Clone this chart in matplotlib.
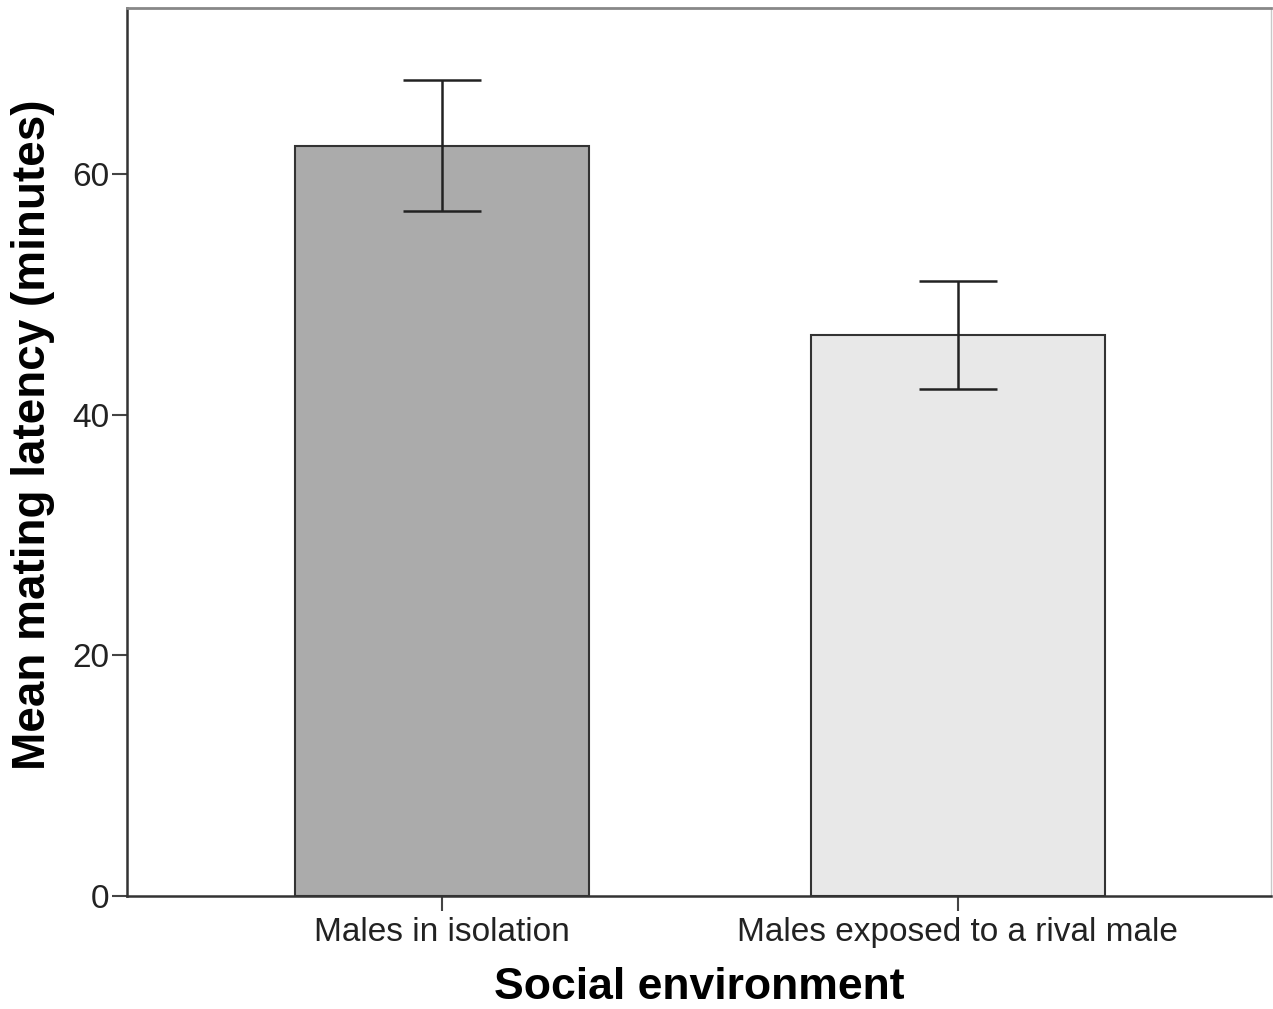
import numpy as np
import matplotlib.pyplot as plt

# Data
groups = ["Males in isolation", "Males exposed to a rival male"]
mean_latency = [62.3, 46.6]
err_upper = [67.8, 51.1]
err_lower = [56.9, 42.1]
bar_colors = ["#ababab", "#e8e8e8"]

plt.rcParams['font.family'] = ['Liberation Sans', 'DejaVu Sans']

fig = plt.figure(figsize=(12.73, 10.09), dpi=100)
ax = fig.add_axes([0.0998, 0.112, 0.8985, 0.880])

x = np.arange(len(groups))
means = np.array(mean_latency)
yerr = np.vstack([means - np.array(err_lower), np.array(err_upper) - means])

ax.bar(x, means, width=0.57, color=bar_colors, edgecolor="#333333", linewidth=1.5, zorder=2)
ax.errorbar(x, means, yerr=yerr, fmt='none', ecolor="#222222", elinewidth=1.8,
            capsize=28, capthick=1.8, zorder=3)

ax.set_xlim(-0.6105, 1.6066)
ax.set_ylim(0, 73.8)
ax.set_yticks([0, 20, 40, 60])
ax.set_xticks(x)
ax.set_xticklabels(groups)

ax.tick_params(axis='both', direction='out', length=11, width=1.5, color="#444444",
               labelsize=24, labelcolor="#222222")
ax.tick_params(axis='x', pad=4)
ax.tick_params(axis='y', pad=2)

ax.spines['left'].set_color("#333333")
ax.spines['left'].set_linewidth(1.8)
ax.spines['bottom'].set_color("#333333")
ax.spines['bottom'].set_linewidth(1.8)
ax.spines['top'].set_color("#888888")
ax.spines['top'].set_linewidth(2.0)
ax.spines['right'].set_color("#c8c8c8")
ax.spines['right'].set_linewidth(1.0)

ax.set_ylabel("Mean mating latency (minutes)", fontsize=33, fontweight='bold')
ax.yaxis.set_label_coords(-0.063, 0.52)
ax.set_xlabel("Social environment", fontsize=32, fontweight='bold', labelpad=14)

fig.savefig("out.png", dpi=100)
